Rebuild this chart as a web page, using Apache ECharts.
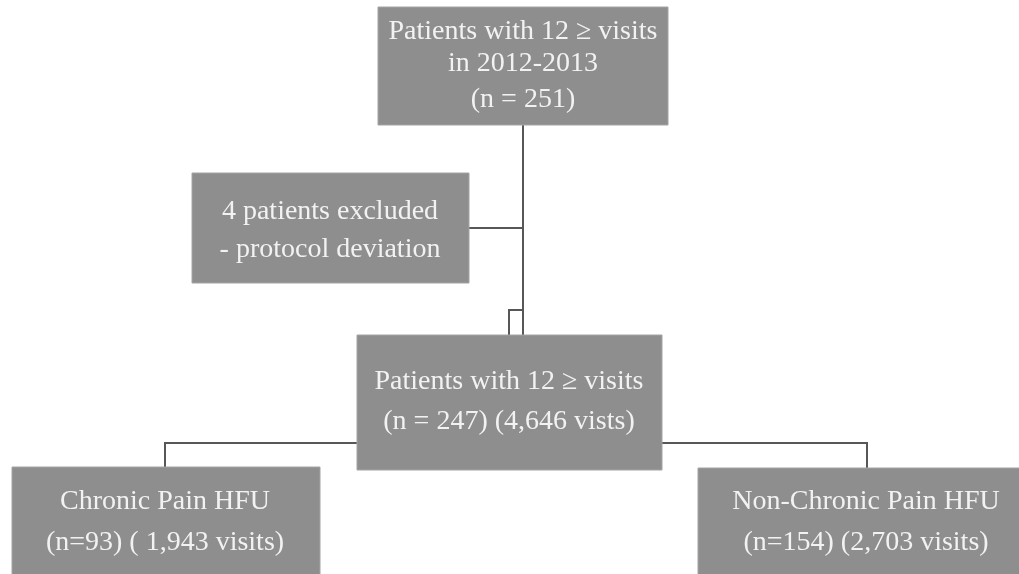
<!DOCTYPE html>
<html><head><meta charset="utf-8">
<script src="https://cdn.jsdelivr.net/npm/echarts@6/dist/echarts.min.js"></script>
<style>html,body{margin:0;padding:0;background:#fff}#c{width:1019px;height:574px}</style>
</head><body><div id="c"></div>
<script>
// ---- Content (text of each flowchart node) ----
const nodeIds = ['screened', 'excluded', 'included', 'chronic', 'nonChronic'];
const nodeLines = [
  ['Patients with 12 \u2265 visits', 'in 2012-2013', '(n = 251)'],
  ['4 patients excluded', '- protocol deviation'],
  ['Patients with 12 \u2265 visits', '(n = 247) (4,646 vists)'],
  ['Chronic Pain HFU', '(n=93) ( 1,943 visits)'],
  ['Non-Chronic Pain HFU', '(n=154) (2,703 visits)']
];

// ---- Layout (in a 1019 x 574 coordinate space of hidden axes) ----
const boxLayout = [
  [378, 7, 668, 125],
  [192, 173, 469, 283],
  [357, 335, 662, 470],
  [12, 467, 320, 590],
  [698, 468, 1040, 590]
];
const textCenterX = [523, 330, 509, 165, 866];
const textLineY = [
  [32, 64, 100],
  [212, 250],
  [382, 422],
  [502, 543],
  [502, 543]
];
const connectorLayout = [
  [[523, 125], [523, 335]],
  [[469, 228], [523, 228]],
  [[509, 335], [509, 310], [523, 310]],
  [[357, 443], [165, 443], [165, 467]],
  [[662, 443], [867, 443], [867, 468]]
];

const chart = echarts.init(document.getElementById('c'), null, {renderer: 'canvas'});
chart.setOption({
  animation: false,
  backgroundColor: '#ffffff',
  grid: {left: 0, right: 0, top: 0, bottom: 0},
  xAxis: {type: 'value', min: 0, max: 1019, show: false},
  yAxis: {type: 'value', min: 0, max: 574, inverse: true, show: false},
  series: [
    {
      type: 'custom',
      name: 'connectors',
      coordinateSystem: 'cartesian2d',
      data: connectorLayout.map((_, i) => [i]),
      renderItem: function (params, api) {
        const i = api.value(0);
        const pts = connectorLayout[i].map(p => api.coord(p));
        return {
          type: 'polyline',
          shape: {points: pts},
          style: {stroke: '#575757', lineWidth: 2, fill: null}
        };
      },
      z: 1
    },
    {
      type: 'custom',
      name: 'nodes',
      coordinateSystem: 'cartesian2d',
      data: nodeIds.map((_, i) => [i]),
      renderItem: function (params, api) {
        const i = api.value(0);
        const b = boxLayout[i];
        const p0 = api.coord([b[0], b[1]]);
        const p1 = api.coord([b[2], b[3]]);
        const children = [{
          type: 'rect',
          shape: {x: p0[0], y: p0[1], width: p1[0] - p0[0], height: p1[1] - p0[1]},
          style: {fill: '#8e8e8e', stroke: '#a4a4a4', lineWidth: 1}
        }];
        nodeLines[i].forEach((t, k) => {
          const c = api.coord([textCenterX[i], textLineY[i][k]]);
          children.push({
            type: 'text',
            x: c[0], y: c[1],
            style: {
              text: t, fill: '#f2f2f2',
              font: '28px "Liberation Serif", "DejaVu Serif", serif',
              align: 'center', verticalAlign: 'middle'
            }
          });
        });
        return {type: 'group', children: children};
      },
      z: 2
    }
  ]
});
</script>
</body></html>
